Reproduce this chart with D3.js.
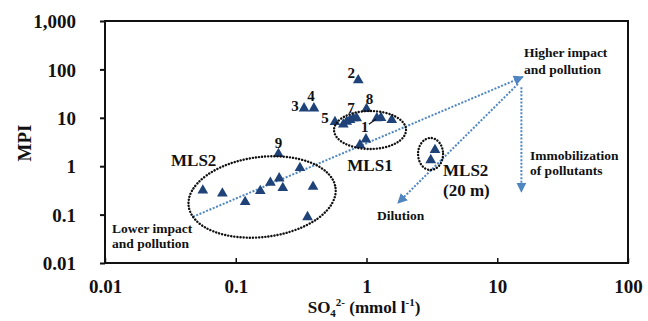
<!DOCTYPE html>
<html>
<head>
<meta charset="utf-8">
<script src="https://cdn.jsdelivr.net/npm/d3@7"></script>
<style>
  html, body { margin: 0; padding: 0; background: #fff; }
  svg { display: block; }
  text { font-family: "Liberation Serif", "Times New Roman", serif; font-weight: bold; fill: #111; }
</style>
</head>
<body>
<svg id="chart" width="648" height="321"></svg>
<script>
/* ---------- Data ---------- */
// MLS2 samples (shallow)
const mls2X = [0.056, 0.079, 0.118, 0.154, 0.184, 0.215, 0.229, 0.31, 0.39, 0.354, 0.212];
const mls2Y = [0.315, 0.275, 0.182, 0.307, 0.456, 0.562, 0.355, 0.918, 0.377, 0.089, 1.79];
// MLS1 and numbered upper samples
const mls1X = [0.865, 0.333, 0.396, 0.574, 0.665, 0.706, 0.748, 0.793, 0.841, 1.0, 1.2, 1.29, 1.56, 0.89, 0.99];
const mls1Y = [60, 15.7, 15.7, 8.2, 7.3, 8.3, 9.0, 9.8, 9.8, 15.2, 9.8, 10.0, 9.0, 2.74, 3.6];
// MLS2 at 20 m
const deepX = [3.34, 3.1];
const deepY = [2.16, 1.34];

// numbered labels: [label, group, index]
const pointLabels = [
  ['2', 'mls1', 0], ['3', 'mls1', 1], ['4', 'mls1', 2], ['5', 'mls1', 3],
  ['7', 'mls1', 6], ['8', 'mls1', 9], ['9', 'mls2', 10]
];

const xTicks = [0.01, 0.1, 1, 10, 100];
const yTicks = [0.01, 0.1, 1, 10, 100, 1000];
const yTickLabels = ['0.01', '0.1', '1', '10', '100', '1,000'];

// trend arrows in data coordinates [x1, y1, x2, y2]
const arrows = [
  [0.047, 0.09, 15.7, 70],    // lower -> higher impact
  [14.4, 50, 1.74, 0.174],    // dilution
  [15.3, 43, 15.3, 0.297]     // immobilization
];

// group outlines: centre in data coords
const ellipses = [
  { cx: 0.159, cy: 0.231, rx: 74, ry: 40, rot: -7 },
  { cx: 1.064, cy: 5.6, rx: 36, ry: 19, rot: 0 },
  { cx: 3.09, cy: 1.79, rx: 12.5, ry: 16, rot: 0 }
];

/* ---------- Scales ---------- */
const svg = d3.select('#chart');
const x = d3.scaleLog().domain([0.01, 100]).range([105, 628]);
const y = d3.scaleLog().domain([0.01, 1000]).range([263, 21]);

const triColor = '#1f4278';
const arrowColor = '#4f86c2';

/* ---------- Axes ---------- */
const yAxis = d3.axisLeft(y).tickValues(yTicks)
  .tickFormat((d, i) => yTickLabels[i]).tickSize(5).tickPadding(24);
const gy = svg.append('g').attr('transform', 'translate(105,0)').call(yAxis);
gy.select('.domain').remove();
gy.selectAll('line').attr('stroke', '#111').attr('stroke-width', 2);
gy.selectAll('text').attr('font-size', 19).attr('dy', '0.35em').style('fill', '#111');

const xAxis = d3.axisBottom(x).tickValues(xTicks)
  .tickFormat(d => String(d)).tickSize(-5).tickPadding(22);
const gx = svg.append('g').attr('transform', 'translate(0,263)').call(xAxis);
gx.select('.domain').remove();
gx.selectAll('line').attr('stroke', '#111').attr('stroke-width', 1.5);
gx.selectAll('text').attr('font-size', 19).attr('dy', '0.35em').style('fill', '#111');
gx.selectAll('.tick text').attr('y', 23);

// frame
svg.append('rect')
  .attr('x', 105).attr('y', 21)
  .attr('width', 628 - 105).attr('height', 263 - 21)
  .attr('fill', 'none').attr('stroke', '#111').attr('stroke-width', 2);

// axis titles
svg.append('text')
  .attr('transform', 'translate(31,143) rotate(-90)')
  .attr('text-anchor', 'middle').attr('font-size', 19).text('MPI');

const xt = svg.append('text').attr('x', 364).attr('y', 313)
  .attr('text-anchor', 'middle').attr('font-size', 17);
xt.append('tspan').text('SO');
xt.append('tspan').attr('font-size', 11).attr('dy', 4).text('4');
xt.append('tspan').attr('font-size', 11).attr('dy', -11).text('2-');
xt.append('tspan').attr('dy', 7).text(' (mmol l');
xt.append('tspan').attr('font-size', 11).attr('dy', -7).text('-1');
xt.append('tspan').attr('dy', 7).text(')');

/* ---------- Arrows ---------- */
svg.append('defs').append('marker')
  .attr('id', 'head')
  .attr('viewBox', '0 0 10 10')
  .attr('refX', 9).attr('refY', 5)
  .attr('markerWidth', 5).attr('markerHeight', 5)
  .attr('markerUnits', 'strokeWidth')
  .attr('orient', 'auto')
  .append('path').attr('d', 'M0,0 L10,5 L0,10 Z').attr('fill', arrowColor);

svg.append('g').selectAll('line')
  .data(arrows)
  .join('line')
  .attr('x1', d => x(d[0])).attr('y1', d => y(d[1]))
  .attr('x2', d => x(d[2])).attr('y2', d => y(d[3]))
  .attr('stroke', arrowColor).attr('stroke-width', 2)
  .attr('stroke-dasharray', '2,1.6')
  .attr('marker-end', 'url(#head)');

/* ---------- Points ---------- */
const tri = d3.symbol().type(d3.symbolTriangle).size(50);
const groups = {
  mls2: mls2X.map((v, i) => [v, mls2Y[i]]),
  mls1: mls1X.map((v, i) => [v, mls1Y[i]]),
  deep: deepX.map((v, i) => [v, deepY[i]])
};
Object.values(groups).forEach(pts => {
  svg.append('g').selectAll('path')
    .data(pts)
    .join('path')
    .attr('d', tri)
    .attr('transform', d => `translate(${x(d[0])},${y(d[1])})`)
    .attr('fill', triColor);
});

/* ---------- Ellipses ---------- */
svg.append('g').selectAll('ellipse')
  .data(ellipses)
  .join('ellipse')
  .attr('transform', d => `translate(${x(d.cx)},${y(d.cy)}) rotate(${d.rot})`)
  .attr('rx', d => d.rx).attr('ry', d => d.ry)
  .attr('fill', 'none').attr('stroke', '#111').attr('stroke-width', 2.4)
  .attr('stroke-linecap', 'round')
  .attr('stroke-dasharray', '0.1,3');

/* ---------- Labels ---------- */
const labelOffset = { '2': [-7, -7], '3': [-9, -3], '4': [-3, -13], '5': [-10, -4], '7': [1, -12], '8': [3, -10], '9': [0, -11] };
svg.append('g').selectAll('text')
  .data(pointLabels)
  .join('text')
  .attr('x', d => x(groups[d[1]][d[2]][0]) + labelOffset[d[0]][0])
  .attr('y', d => y(groups[d[1]][d[2]][1]) + labelOffset[d[0]][1])
  .attr('dy', '0.35em').attr('text-anchor', 'middle')
  .attr('font-size', 15).text(d => d[0]);

// "1" with a leader line to its triangle
const p1 = groups.mls1[10];
svg.append('text').attr('x', x(p1[0]) - 12).attr('y', y(p1[1]) + 9)
  .attr('dy', '0.35em').attr('text-anchor', 'middle').attr('font-size', 15).text('1');
svg.append('line')
  .attr('x1', x(p1[0]) - 8).attr('y1', y(p1[1]) + 6)
  .attr('x2', x(p1[0]) - 1).attr('y2', y(p1[1]) + 1)
  .attr('stroke', '#111').attr('stroke-width', 1.2);

// group names
svg.append('text').attr('x', 171).attr('y', 166).attr('font-size', 17).text('MLS2');
svg.append('text').attr('x', 370).attr('y', 171).attr('text-anchor', 'middle').attr('font-size', 17).text('MLS1');
svg.append('text').attr('x', 443).attr('y', 176).attr('font-size', 17).text('MLS2');
svg.append('text').attr('x', 443).attr('y', 196).attr('font-size', 17).text('(20 m)');

// annotations
function twoLines(x0, y0, gap, a, b) {
  const t = svg.append('text').attr('x', x0).attr('y', y0).attr('font-size', 13.5);
  t.append('tspan').attr('x', x0).text(a);
  t.append('tspan').attr('x', x0).attr('dy', gap).text(b);
}
twoLines(524, 57, 17, 'Higher impact', 'and pollution');
twoLines(530, 160, 15, 'Immobilization', 'of pollutants');
twoLines(112, 233, 14.5, 'Lower impact', 'and pollution');
svg.append('text').attr('x', 377).attr('y', 220).attr('font-size', 13.5).text('Dilution');
</script>
</body>
</html>
